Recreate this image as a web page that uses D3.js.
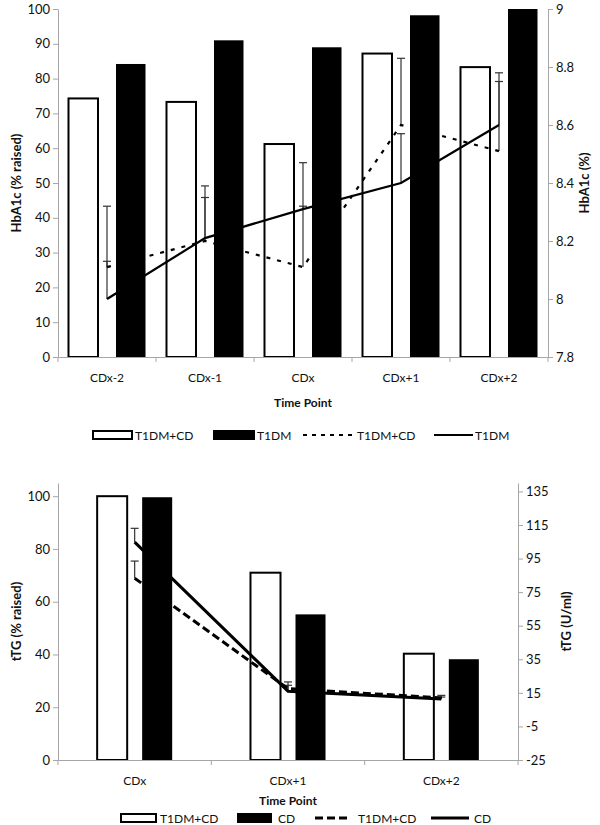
<!DOCTYPE html>
<html>
<head>
<meta charset="utf-8">
<script src="https://cdn.jsdelivr.net/npm/d3@7"></script>
<style>
  body { margin: 0; background: #fff; }
  svg text { font-family: Lato, "Open Sans", sans-serif; fill: #111; }
</style>
</head>
<body>
<div id="chart"></div>
<script>
// ---- data: top chart (HbA1c) ----
var hbCategories = ["CDx-2", "CDx-1", "CDx", "CDx+1", "CDx+2"];
var hbRaisedCombo = [74.3, 73.3, 61.2, 87.2, 83.3];   // T1DM+CD bars (% raised)
var hbRaisedT1 = [84.2, 91.0, 89.0, 98.2, 100];       // T1DM bars (% raised)
var hbMeanCombo = [8.11, 8.20, 8.11, 8.60, 8.51];     // T1DM+CD line (%)
var hbMeanT1 = [8.00, 8.21, 8.31, 8.40, 8.60];        // T1DM line (%)
var hbErrCombo = [8.32, 8.35, 8.32, 8.83, 8.78];      // upper error, T1DM+CD
var hbErrT1 = [8.13, 8.39, 8.47, 8.57, 8.75];         // upper error, T1DM
var hbLeftTicks = [0, 10, 20, 30, 40, 50, 60, 70, 80, 90, 100];
var hbRightTicks = [7.8, 8, 8.2, 8.4, 8.6, 8.8, 9];

// ---- data: bottom chart (tTG) ----
var ttgCategories = ["CDx", "CDx+1", "CDx+2"];
var ttgRaisedCombo = [100, 71.0, 40.3];               // T1DM+CD bars (% raised)
var ttgRaisedCD = [99.6, 55.2, 38.2];                 // CD bars (% raised)
var ttgMeanCombo = [83.3, 17.5, 12.0];                // T1DM+CD line (U/ml)
var ttgMeanCD = [104.8, 16.0, 11.3];                  // CD line (U/ml)
var ttgErrCombo = [93.5, 19.5, 12.5];
var ttgErrCD = [113.0, 21.5, 13.5];
var ttgLeftTicks = [0, 20, 40, 60, 80, 100];
var ttgRightTicks = [-25, -5, 15, 35, 55, 75, 95, 115, 135];

var svg = d3.select("#chart").append("svg")
  .attr("width", 600).attr("height", 825);

var axisColor = "#a6a6a6";

function drawPanel(cfg) {
  var g = svg.append("g");
  var x = d3.scaleBand().domain(cfg.categories).range([cfg.x0, cfg.x1]);
  var sub = d3.scaleBand().domain(["a", "b"]).range([0, x.bandwidth()])
    .paddingInner(cfg.pi).paddingOuter(cfg.po);
  var yL = d3.scaleLinear().domain(cfg.leftDomain).range([cfg.y1, cfg.y0]);
  var yR = d3.scaleLinear().domain(cfg.rightDomain).range([cfg.y1, cfg.y0]);

  // bars
  var barData = cfg.categories.map(function (c, i) {
    return { c: c, a: cfg.barsA[i], b: cfg.barsB[i] };
  });
  g.selectAll("rect.a").data(barData).enter().append("rect")
    .attr("x", function (d) { return x(d.c) + sub("a"); })
    .attr("y", function (d) { return yL(d.a); })
    .attr("width", sub.bandwidth())
    .attr("height", function (d) { return yL(0) - yL(d.a); })
    .attr("fill", "#fff").attr("stroke", "#000").attr("stroke-width", 2);
  g.selectAll("rect.b").data(barData).enter().append("rect")
    .attr("x", function (d) { return x(d.c) + sub("b"); })
    .attr("y", function (d) { return yL(d.b); })
    .attr("width", sub.bandwidth())
    .attr("height", function (d) { return yL(0) - yL(d.b); })
    .attr("fill", "#000");

  // axes
  var ax = g.append("g").attr("transform", "translate(0," + cfg.y1 + ")")
    .call(d3.axisBottom(x).tickSize(0).tickFormat(""));
  ax.select(".domain").attr("stroke", axisColor);
  var bounds = x.domain().map(function (c) { return x(c); }).concat([cfg.x1]);
  g.selectAll("line.xt").data(bounds).enter().append("line")
    .attr("x1", function (d) { return d; }).attr("x2", function (d) { return d; })
    .attr("y1", cfg.y1).attr("y2", cfg.y1 + 5).attr("stroke", axisColor);
  g.selectAll("text.xl").data(cfg.categories).enter().append("text")
    .attr("x", function (d) { return x(d) + x.bandwidth() / 2; })
    .attr("y", cfg.y1 + 25).attr("text-anchor", "middle")
    .style("font-size", "12px").text(function (d) { return d; });

  var al = g.append("g").attr("transform", "translate(" + cfg.x0 + ",0)")
    .call(d3.axisLeft(yL).tickValues(cfg.leftTicks).tickSize(5).tickSizeOuter(0)
      .tickFormat(function (d) { return String(d); }));
  var ar = g.append("g").attr("transform", "translate(" + cfg.x1 + ",0)")
    .call(d3.axisRight(yR).tickValues(cfg.rightTicks).tickSize(5).tickSizeOuter(0)
      .tickFormat(function (d) { return String(+d.toFixed(2)); }));
  [al, ar].forEach(function (a) {
    a.select(".domain").attr("stroke", axisColor);
    a.selectAll(".tick line").attr("stroke", axisColor);
    a.selectAll(".tick text").style("font-size", "13px")
      .style("font-family", "Lato, sans-serif").attr("fill", "#111");
  });

  // titles
  g.append("text").attr("transform", "translate(" + cfg.leftTitleX + "," + (cfg.y0 + cfg.y1) / 2 + ") rotate(-90)")
    .attr("text-anchor", "middle").style("font-size", "13px").style("font-weight", "bold")
    .text(cfg.leftTitle);
  g.append("text").attr("transform", "translate(" + cfg.rightTitleX + "," + (cfg.y0 + cfg.y1) / 2 + ") rotate(-90)")
    .attr("text-anchor", "middle").style("font-size", "13px").style("font-weight", "bold")
    .text(cfg.rightTitle);
  g.append("text").attr("x", (cfg.x0 + cfg.x1) / 2).attr("y", cfg.xTitleY)
    .attr("text-anchor", "middle").style("font-size", "12px").style("font-weight", "bold")
    .text("Time Point");

  // error bars (upper only)
  function errBars(means, ups, color) {
    var d = cfg.categories.map(function (c, i) { return { c: c, m: means[i], u: ups[i] }; });
    var cx = function (d) { return x(d.c) + x.bandwidth() / 2; };
    g.selectAll(null).data(d).enter().append("line")
      .attr("x1", cx).attr("x2", cx)
      .attr("y1", function (d) { return yR(d.m); })
      .attr("y2", function (d) { return yR(d.u); })
      .attr("stroke", color).attr("stroke-width", 1.2);
    g.selectAll(null).data(d).enter().append("line")
      .attr("x1", function (d) { return cx(d) - 4; })
      .attr("x2", function (d) { return cx(d) + 4; })
      .attr("y1", function (d) { return yR(d.u); })
      .attr("y2", function (d) { return yR(d.u); })
      .attr("stroke", color).attr("stroke-width", 1.2);
  }
  errBars(cfg.lineA, cfg.errA, "#333");
  errBars(cfg.lineB, cfg.errB, "#333");

  // lines
  var line = d3.line()
    .x(function (d) { return x(d.c) + x.bandwidth() / 2; })
    .y(function (d) { return yR(d.v); });
  var la = cfg.categories.map(function (c, i) { return { c: c, v: cfg.lineA[i] }; });
  var lb = cfg.categories.map(function (c, i) { return { c: c, v: cfg.lineB[i] }; });
  g.append("path").datum(la).attr("d", line).attr("fill", "none")
    .attr("stroke", "#000").attr("stroke-width", cfg.lineW)
    .attr("stroke-dasharray", cfg.dash);
  g.append("path").datum(lb).attr("d", line).attr("fill", "none")
    .attr("stroke", "#000").attr("stroke-width", cfg.lineW);

  // legend
  var lg = g.append("g").attr("transform", "translate(0," + cfg.legendY + ")");
  var it = cfg.legend;
  lg.append("rect").attr("x", it[0].x).attr("y", -4).attr("width", it[0].w).attr("height", 8)
    .attr("fill", "#fff").attr("stroke", "#000").attr("stroke-width", 2);
  lg.append("rect").attr("x", it[1].x - 1).attr("y", -5).attr("width", it[1].w + 2).attr("height", 10)
    .attr("fill", "#000");
  lg.append("line").attr("x1", it[2].x).attr("x2", it[2].x + it[2].w).attr("y1", 0).attr("y2", 0)
    .attr("stroke", "#000").attr("stroke-width", cfg.lineW).attr("stroke-dasharray", cfg.legendDash);
  lg.append("line").attr("x1", it[3].x).attr("x2", it[3].x + it[3].w).attr("y1", 0).attr("y2", 0)
    .attr("stroke", "#000").attr("stroke-width", cfg.lineW);
  it.forEach(function (d) {
    lg.append("text").attr("x", d.x + d.w + d.gap).attr("y", 4.5)
      .style("font-size", "12px").text(d.label);
  });
}

drawPanel({
  categories: hbCategories,
  x0: 58, x1: 548, y0: 9, y1: 357,
  pi: 0.379, po: 0.221,
  leftDomain: [0, 100], rightDomain: [7.8, 9],
  leftTicks: hbLeftTicks, rightTicks: hbRightTicks,
  barsA: hbRaisedCombo, barsB: hbRaisedT1,
  lineA: hbMeanCombo, lineB: hbMeanT1,
  errA: hbErrCombo, errB: hbErrT1,
  lineW: 2.2, dash: "4,7", legendDash: "4,5",
  leftTitle: "HbA1c  (% raised)", rightTitle: "HbA1c (%)",
  leftTitleX: 21, rightTitleX: 589, xTitleY: 407,
  legendY: 435,
  legend: [
    { x: 93, w: 39, gap: 3, label: "T1DM+CD" },
    { x: 214, w: 40, gap: 3, label: "T1DM" },
    { x: 303, w: 52, gap: 2, label: "T1DM+CD" },
    { x: 434, w: 39, gap: 2, label: "T1DM" }
  ]
});

drawPanel({
  categories: ttgCategories,
  x0: 58, x1: 518, y0: 483, y1: 760,
  pi: 0.333, po: 0.87,
  leftDomain: [0, 105], rightDomain: [-25, 140],
  leftTicks: ttgLeftTicks, rightTicks: ttgRightTicks,
  barsA: ttgRaisedCombo, barsB: ttgRaisedCD,
  lineA: ttgMeanCombo, lineB: ttgMeanCD,
  errA: ttgErrCombo, errB: ttgErrCD,
  lineW: 3, dash: "8,4", legendDash: "8,4",
  leftTitle: "tTG (% raised)", rightTitle: "tTG (U/ml)",
  leftTitleX: 21, rightTitleX: 571, xTitleY: 805,
  legendY: 818,
  legend: [
    { x: 121, w: 35, gap: 4, label: "T1DM+CD" },
    { x: 238, w: 33, gap: 7, label: "CD" },
    { x: 315, w: 34, gap: 9, label: "T1DM+CD" },
    { x: 431, w: 38, gap: 5, label: "CD" }
  ]
});
</script>
</body>
</html>
